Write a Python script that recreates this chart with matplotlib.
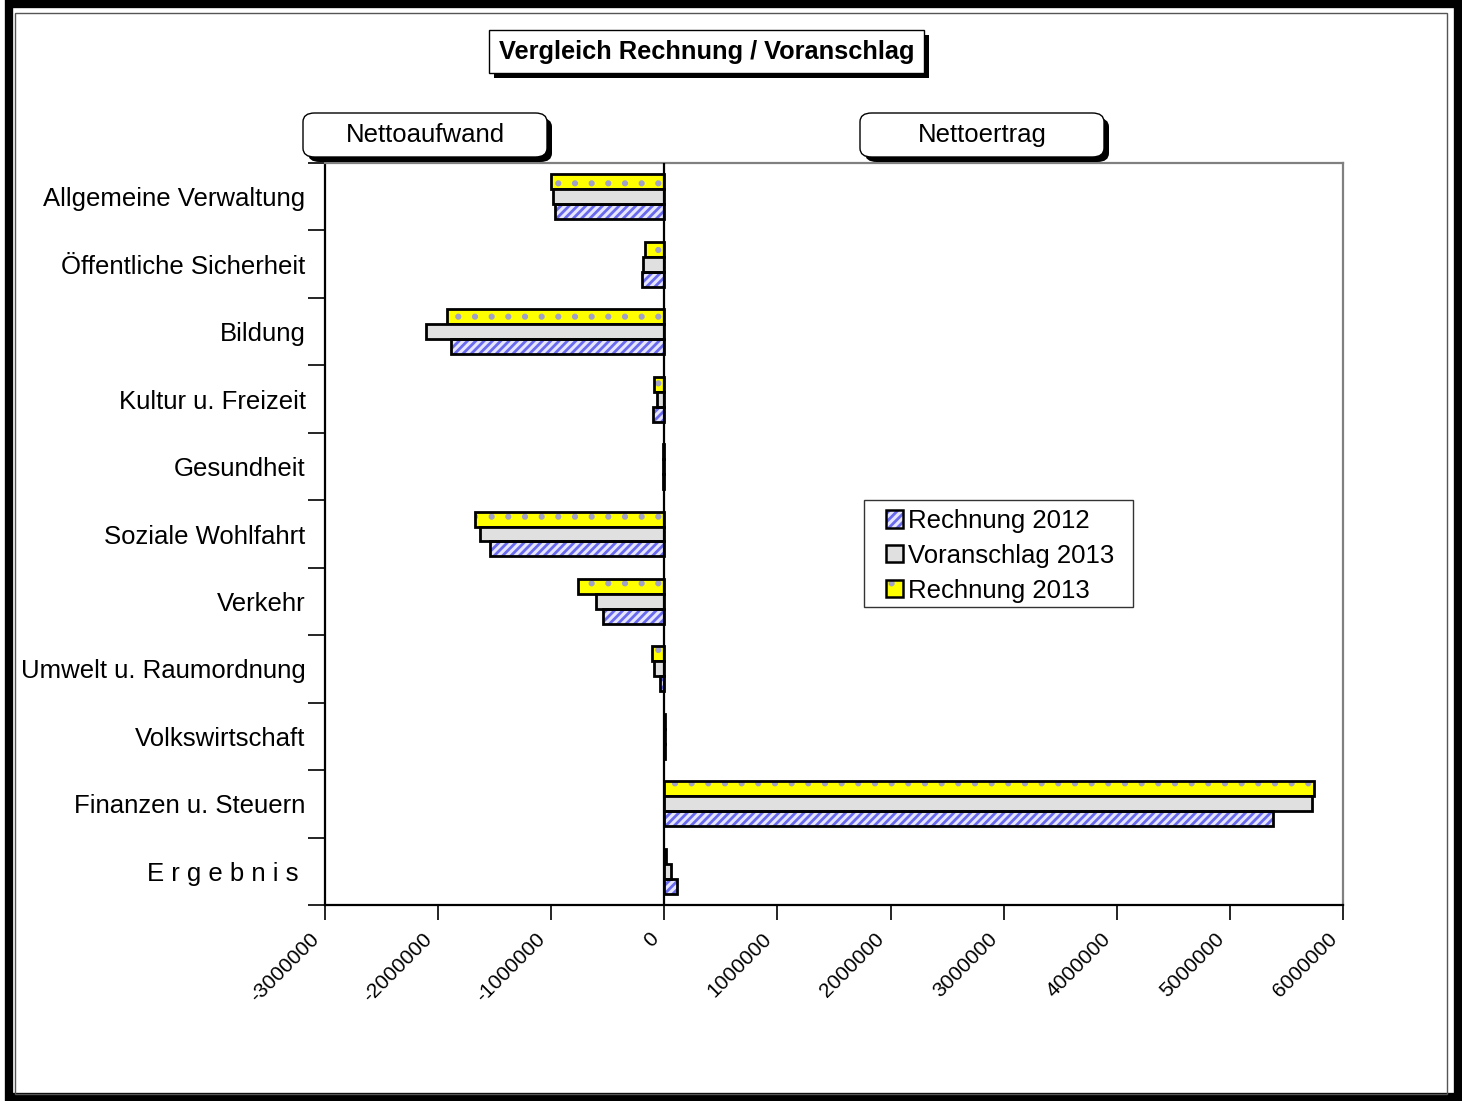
import matplotlib
matplotlib.use("Agg")
from matplotlib import pyplot as plt
from matplotlib.patches import Patch, Rectangle, FancyBboxPatch
from matplotlib.transforms import ScaledTranslation
import numpy as np

plt.rcParams['font.family'] = ['Liberation Sans', 'DejaVu Sans']
plt.rcParams['hatch.linewidth'] = 2.0

categories = ['Allgemeine Verwaltung', 'Öffentliche Sicherheit', 'Bildung',
              'Kultur u. Freizeit', 'Gesundheit', 'Soziale Wohlfahrt', 'Verkehr',
              'Umwelt u. Raumordnung', 'Volkswirtschaft', 'Finanzen u. Steuern',
              'E r g e b n i s ']
rechnung_2012 = [-970000, -195000, -1890000, -97000, -8000, -1540000, -540000,
                 -35000, 8000, 5380000, 115000]
voranschlag_2013 = [-980000, -186000, -2110000, -62000, -8000, -1630000, -600000,
                    -88000, 8000, 5730000, 62000]
rechnung_2013 = [-1000000, -168000, -1920000, -88000, -8000, -1670000, -760000,
                 -106000, 8000, 5740000, 15000]
series_names = ['Rechnung 2012', 'Voranschlag 2013', 'Rechnung 2013']
xticks = [-3000000, -2000000, -1000000, 0, 1000000, 2000000, 3000000, 4000000,
          5000000, 6000000]

W, H = 1462, 1101
fig = plt.figure(figsize=(W / 100, H / 100), dpi=100)

# frame around the whole picture
fig.patches.append(Rectangle((9 / W, 4 / H), (1458 - 9) / W, (1097 - 4) / H,
                             transform=fig.transFigure, fill=False,
                             edgecolor='black', lw=6))
fig.patches.append(Rectangle((15 / W, 7 / H), (1447 - 15) / W, (1088 - 7) / H,
                             transform=fig.transFigure, fill=False,
                             edgecolor='#555555', lw=1))

ax = fig.add_axes([325 / W, 1 - 905 / H, (1343 - 325) / W, (905 - 163) / H])

n = len(categories)
y = np.arange(n)
h = 0.222
lw = 2.0
fs = 18.5

blue_face, blue_hatch = '#e6e6ff', '#6a6aee'
gray_face = '#e0e0e0'
yellow_face, dot_col = '#ffff00', '#a0a0c8'

# Rechnung 2013 (top, yellow dotted)
ax.barh(y + 0.5 - h, rechnung_2013, height=h, facecolor=yellow_face,
        edgecolor=dot_col, hatch='.', lw=0, zorder=2)
ax.barh(y + 0.5 - h, rechnung_2013, height=h, facecolor='none',
        edgecolor='black', lw=lw, zorder=3)
# Voranschlag 2013 (middle, grey)
ax.barh(y + 0.5, voranschlag_2013, height=h, facecolor=gray_face,
        edgecolor='black', lw=lw, zorder=3)
# Rechnung 2012 (bottom, blue hatched)
ax.barh(y + 0.5 + h, rechnung_2012, height=h, facecolor=blue_face,
        edgecolor=blue_hatch, hatch='////', lw=0, zorder=2)
ax.barh(y + 0.5 + h, rechnung_2012, height=h, facecolor='none',
        edgecolor='black', lw=lw, zorder=3)

ax.axvline(0, color='black', lw=1.6, zorder=4)

ax.set_xlim(-3000000, 6000000)
ax.set_ylim(n, 0)

ax.set_xticks(xticks)
ax.set_xticklabels([str(t) for t in xticks], rotation=45, ha='right',
                   va='center', rotation_mode='anchor', fontsize=15)
ax.tick_params(axis='x', direction='out', length=11, width=1.2, pad=9)
shift = ScaledTranslation(-9 / 100, -3 / 100, fig.dpi_scale_trans)
for lab in ax.get_xticklabels():
    lab.set_transform(lab.get_transform() + shift)

ax.set_yticks(np.arange(n + 1))
ax.set_yticklabels([])
ax.tick_params(axis='y', which='major', direction='out', length=12, width=1.2)
ax.set_yticks(y + 0.5, minor=True)
ax.set_yticklabels(categories, minor=True, fontsize=fs)
ax.tick_params(axis='y', which='minor', length=0, pad=14)

for s in ['left', 'bottom']:
    ax.spines[s].set_color('black')
    ax.spines[s].set_linewidth(1.6)
for s in ['top', 'right']:
    ax.spines[s].set_color('#808080')
    ax.spines[s].set_linewidth(1.6)

# legend (frame drawn separately)
fig.patches.append(Rectangle((864 / W, 1 - 607 / H), (1133 - 864) / W,
                             (607 - 500) / H, transform=fig.transFigure,
                             facecolor='white', edgecolor='#333333', lw=1.0,
                             zorder=5))
handles = [
    (Patch(facecolor=blue_face, edgecolor=blue_hatch, hatch='////', lw=0),
     Patch(facecolor='none', edgecolor='black', lw=1.8)),
    Patch(facecolor=gray_face, edgecolor='black', lw=1.8),
    (Patch(facecolor=yellow_face, edgecolor=dot_col, hatch='.', lw=0),
     Patch(facecolor='none', edgecolor='black', lw=1.8)),
]
leg = fig.legend(handles, series_names, loc='upper left',
                 bbox_to_anchor=(886 / W, 1 - 509 / H), fontsize=fs,
                 frameon=False, handlelength=0.66, handleheight=0.66,
                 handletextpad=0.2, labelspacing=0.42, borderpad=0,
                 borderaxespad=0)
leg.set_zorder(6)


def box(x0, y0, x1, y1, text, bold=False, rounded=False, fs=18.5):
    style = 'round,pad=0,rounding_size=0.008' if rounded else 'square,pad=0'
    sh = FancyBboxPatch((x0 / W + 5 / W, 1 - y1 / H - 5 / H),
                        (x1 - x0) / W, (y1 - y0) / H, boxstyle=style,
                        transform=fig.transFigure, facecolor='black',
                        edgecolor='black', lw=0)
    fr = FancyBboxPatch((x0 / W, 1 - y1 / H), (x1 - x0) / W, (y1 - y0) / H,
                        boxstyle=style, transform=fig.transFigure,
                        facecolor='white', edgecolor='black', lw=1.0)
    fig.patches.append(sh)
    fig.patches.append(fr)
    fig.text((x0 + x1) / 2 / W, 1 - (y0 + y1) / 2 / H, text, ha='center',
             va='center', fontsize=fs,
             fontweight='bold' if bold else 'normal')


box(489, 30, 924, 73, 'Vergleich Rechnung / Voranschlag', bold=True, fs=18.3)
box(303, 113, 547, 157, 'Nettoaufwand', rounded=True)
box(860, 113, 1104, 157, 'Nettoertrag', rounded=True)

fig.savefig('out.png', dpi=100)
